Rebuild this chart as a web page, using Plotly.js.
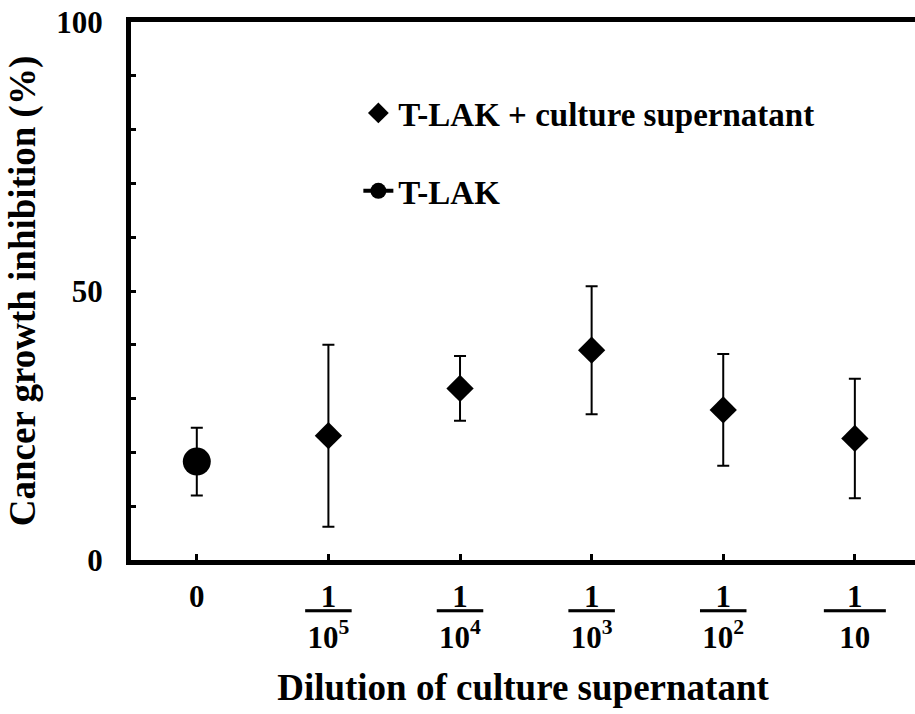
<!DOCTYPE html>
<html>
<head>
<meta charset="utf-8">
<script src="https://cdn.plot.ly/plotly-3.0.1.min.js"></script>
<style>html,body{margin:0;padding:0;background:#fff;}#chart{width:915px;height:714px;}</style>
</head>
<body>
<div id="chart"></div>
<script>
// Categories (dilution of culture supernatant)
const categories = ["0", "1/10^5", "1/10^4", "1/10^3", "1/10^2", "1/10"];
const NB = "\u00a0";
const U0 = '<span style="text-decoration:underline;text-decoration-thickness:3px">';
const U1 = "</span>";
const tickLabels = [
  "0",
  U0 + NB + NB + "1" + NB + NB + U1 + "<br>10<sup>5</sup>",
  U0 + NB + NB + "1" + NB + NB + U1 + "<br>10<sup>4</sup>",
  U0 + NB + NB + "1" + NB + NB + U1 + "<br>10<sup>3</sup>",
  U0 + NB + NB + "1" + NB + NB + U1 + "<br>10<sup>2</sup>",
  U0 + NB + NB + NB + "1" + NB + NB + NB + U1 + "<br>10"
];

// T-LAK alone (control)
const tlakX = ["0"];
const tlakY = [18.3];
const tlakErr = [6.3];

// T-LAK + culture supernatant
const supX = ["1/10^5", "1/10^4", "1/10^3", "1/10^2", "1/10"];
const supY = [23.1, 31.9, 39.0, 27.9, 22.6];
const supErr = [16.9, 6.0, 11.9, 10.4, 11.1];

const FONT = "Liberation Serif, Times New Roman, serif";

const traces = [
  {
    name: "T-LAK + culture supernatant",
    x: supX, y: supY, type: "scatter", mode: "markers",
    legendgroup: "a",
    marker: {symbol: "diamond", size: 21, color: "#000"},
    error_y: {type: "data", array: supErr, visible: true, color: "#000", thickness: 2, width: 6}
  },
  {
    name: "T-LAK",
    x: tlakX, y: tlakY, type: "scatter", mode: "lines+markers",
    legendgroup: "b",
    line: {color: "#000", width: 4},
    marker: {symbol: "circle", size: 28, color: "#000"},
    error_y: {type: "data", array: tlakErr, visible: true, color: "#000", thickness: 2, width: 6}
  }
];

const layout = {
  width: 915, height: 714,
  margin: {l: 131, r: 0, t: 22, b: 154},
  paper_bgcolor: "#fff", plot_bgcolor: "#fff",
  font: {family: FONT, color: "#000", weight: "bold", size: 30},
  showlegend: true,
  legend: {
    x: 0.29, xanchor: "left", y: 0.883, yanchor: "top",
    font: {family: FONT, size: 33, weight: "bold", color: "#000"},
    bgcolor: "rgba(0,0,0,0)", tracegroupgap: 32
  },
  xaxis: {
    type: "category",
    categoryorder: "array", categoryarray: categories,
    range: [-0.5, 5.457],
    tickmode: "array", tickvals: categories, ticktext: tickLabels,
    ticks: "inside", ticklen: 6, tickwidth: 3, tickcolor: "#000",
    showline: true, linewidth: 5, linecolor: "#000", mirror: true,
    showgrid: false, zeroline: false,
    tickfont: {family: FONT, size: 31, weight: "bold"},
    ticklabelstandoff: 5,
    title: {text: "Dilution of culture supernatant", font: {family: FONT, size: 37, weight: "bold"}, standoff: 22}
  },
  yaxis: {
    range: [0, 100], tickmode: "linear", tick0: 0, dtick: 50,
    ticks: "inside", ticklen: 5, tickwidth: 3, tickcolor: "#000",
    minor: {dtick: 10, ticks: "inside", ticklen: 5, tickwidth: 3, tickcolor: "#000", showgrid: false},
    showline: true, linewidth: 5, linecolor: "#000", mirror: false,
    showgrid: false, zeroline: false,
    tickfont: {family: FONT, size: 31, weight: "bold"},
    ticklabelstandoff: 17,
    title: {text: "Cancer growth inhibition (%)", font: {family: FONT, size: 37, weight: "bold"}, standoff: 11}
  }
};

Plotly.newPlot("chart", traces, layout, {displayModeBar: false, staticPlot: true});
</script>
</body>
</html>
